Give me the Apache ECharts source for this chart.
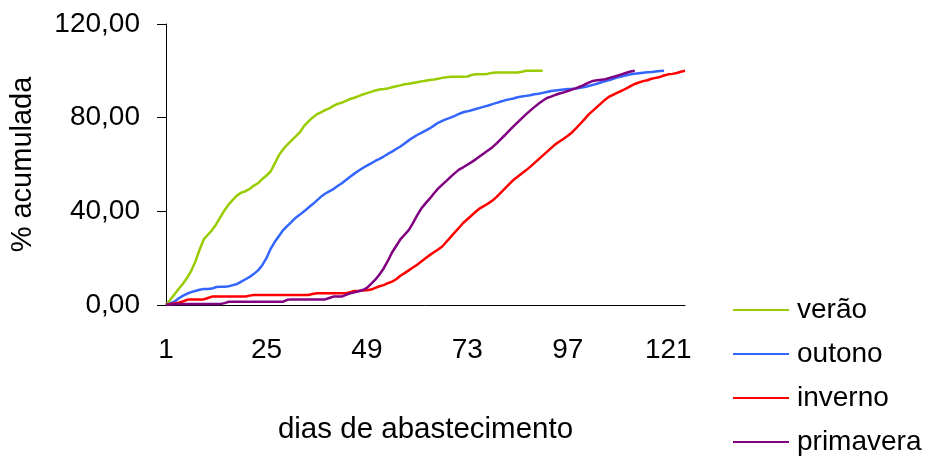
<!DOCTYPE html>
<html>
<head>
<meta charset="utf-8">
<script src="https://cdn.jsdelivr.net/npm/echarts@6/dist/echarts.min.js"></script>
<style>
  html, body { margin: 0; padding: 0; background: #fff; }
  #chart { width: 931px; height: 460px; }
</style>
</head>
<body>
<div id="chart"></div>
<script>
// Supply days (1..125)
const days = Array.from({ length: 125 }, (_, i) => String(i + 1));

// Cumulative percentage per season
const verao = [
  0, 2.2, 4.5, 6.8, 9.0, 11.5, 14.5, 18.5, 23.5, 28.0,
  30.0, 32.0, 34.5, 37.5, 40.5, 43.0, 45.0, 46.8, 48.0, 48.6,
  49.6, 51.0, 52.0, 53.8, 55.3, 57.0, 60.5, 64.0, 66.5, 68.5,
  70.3, 72.0, 73.8, 76.5, 78.3, 80.0, 81.4, 82.3, 83.2, 84.0,
  85.0, 85.9, 86.4, 87.2, 88.0, 88.5, 89.2, 89.9, 90.5, 91.0,
  91.6, 92.0, 92.2, 92.5, 93.0, 93.4, 93.8, 94.3, 94.5, 94.8,
  95.1, 95.5, 95.8, 96.1, 96.3, 96.6, 97.0, 97.3, 97.5, 97.5,
  97.5, 97.5, 97.6, 98.2, 98.5, 98.5, 98.5, 98.8, 99.2, 99.3,
  99.3, 99.3, 99.3, 99.3, 99.3, 99.6, 100, 100, 100, 100,
  100
];

const outono = [
  0, 0.7, 1.4, 2.8, 3.9, 4.8, 5.5, 6.0, 6.5, 6.8,
  6.8, 7.0, 7.7, 7.8, 7.8, 8.0, 8.5, 9.0, 10.0, 11.0,
  12.0, 13.3, 14.8, 17.0, 20.0, 24.0, 27.0, 29.5, 32.0, 33.8,
  35.5, 37.3, 38.6, 40.0, 41.5, 43.0, 44.6, 46.2, 47.5, 48.5,
  49.5, 50.8, 52.0, 53.4, 54.8, 56.1, 57.3, 58.5, 59.5, 60.5,
  61.5, 62.4, 63.4, 64.5, 65.5, 66.6, 67.7, 69.0, 70.3, 71.5,
  72.6, 73.5, 74.5, 75.4, 76.6, 77.8, 78.6, 79.4, 80.0, 80.8,
  81.6, 82.3, 82.7, 83.2, 83.7, 84.2, 84.7, 85.2, 85.8, 86.3,
  86.9, 87.4, 87.8, 88.2, 88.7, 89.0, 89.3, 89.6, 90.0, 90.2,
  90.6, 91.0, 91.4, 91.6, 91.8, 92.0, 92.2, 92.3, 92.5, 92.8,
  93.1, 93.5, 94.0, 94.5, 95.1, 95.6, 96.1, 96.7, 97.3, 97.7,
  98.1, 98.5, 98.8, 99.0, 99.2, 99.4, 99.5, 99.7, 99.9, 100
];

const inverno = [
  0, 0.4, 0.7, 1.0, 1.5, 2.2, 2.4, 2.4, 2.4, 2.4,
  3.0, 3.6, 3.6, 3.6, 3.6, 3.6, 3.6, 3.6, 3.6, 3.6,
  4.0, 4.3, 4.3, 4.3, 4.3, 4.3, 4.3, 4.3, 4.3, 4.3,
  4.3, 4.3, 4.3, 4.3, 4.3, 4.7, 5.0, 5.0, 5.0, 5.0,
  5.0, 5.0, 5.0, 5.0, 5.5, 6.0, 6.0, 6.2, 6.3, 6.6,
  7.3, 8.0, 8.5, 9.3, 10.0, 11.0, 12.5, 13.6, 14.8, 16.0,
  17.2, 18.6, 20.0, 21.3, 22.5, 23.7, 25.0, 27.0, 29.0, 31.0,
  33.0, 35.0, 36.6, 38.2, 39.8, 41.3, 42.3, 43.4, 44.6, 46.2,
  48.0, 49.8, 51.6, 53.4, 54.8, 56.2, 57.5, 59.0, 60.6, 62.2,
  63.8, 65.4, 67.0, 68.6, 69.8, 71.0, 72.3, 73.7, 75.5, 77.4,
  79.4, 81.4, 83.0, 84.6, 86.2, 87.8, 89.1, 89.9, 90.8, 91.6,
  92.5, 93.5, 94.4, 95.0, 95.6, 96.0, 96.6, 97.0, 97.4, 98.0,
  98.5, 98.7, 99.1, 99.6, 100
];

const primavera = [
  0, 0.2, 0.3, 0.4, 0.4, 0.4, 0.4, 0.4, 0.4, 0.4,
  0.4, 0.4, 0.4, 0.4, 0.8, 1.4, 1.4, 1.4, 1.4, 1.4,
  1.4, 1.4, 1.4, 1.4, 1.4, 1.4, 1.4, 1.4, 1.4, 2.2,
  2.4, 2.4, 2.4, 2.4, 2.4, 2.4, 2.4, 2.4, 2.4, 3.0,
  3.6, 3.6, 3.6, 4.3, 5.0, 5.4, 5.9, 6.4, 7.3, 9.0,
  10.8, 13.0, 15.6, 18.8, 22.4, 25.2, 28.0, 30.0, 32.0, 35.0,
  38.3, 41.2, 43.4, 45.4, 47.6, 49.7, 51.4, 53.0, 54.7, 56.3,
  57.8, 58.8, 59.9, 61.0, 62.2, 63.5, 64.8, 66.1, 67.4, 69.0,
  70.8, 72.6, 74.5, 76.3, 78.0, 79.7, 81.4, 83.0, 84.5, 85.9,
  87.2, 88.4, 89.0, 89.7, 90.3, 90.8, 91.4, 92.0, 92.6, 93.3,
  94.1, 95.0, 95.7, 96.0, 96.2, 96.4, 97.0, 97.5, 98.0, 98.6,
  99.2, 99.7, 100
];

const seasonNames = ['verão', 'outono', 'inverno', 'primavera'];
const seasonData = [verao, outono, inverno, primavera];
const seasonColors = ['#99CC00', '#3366FF', '#FF0000', '#800080'];

const FONT = '"Liberation Sans", Arial, sans-serif';

const chart = echarts.init(document.getElementById('chart'), null, { renderer: 'canvas' });

chart.setOption({
  animation: false,
  backgroundColor: '#ffffff',
  textStyle: { fontFamily: FONT, color: '#000' },
  grid: { left: 166, right: 246, top: 24, bottom: 155, containLabel: false },
  legend: {
    orient: 'vertical',
    left: 733,
    top: 296,
    height: 164,
    padding: 0,
    itemWidth: 56,
    itemHeight: 2,
    itemGap: 16,
    icon: 'rect',
    data: seasonNames,
    textStyle: { fontFamily: FONT, fontSize: 28, color: '#000', lineHeight: 28, padding: [0, 0, 0, 3] }
  },
  xAxis: {
    type: 'category',
    data: days,
    boundaryGap: false,
    name: 'dias de abastecimento',
    nameLocation: 'middle',
    nameGap: 110,
    nameTextStyle: { fontFamily: FONT, fontSize: 29.5, color: '#000' },
    axisLine: { show: true, lineStyle: { color: '#000', width: 1 } },
    axisTick: { show: false },
    axisLabel: {
      interval: 23,
      margin: 31,
      fontFamily: FONT,
      fontSize: 28,
      color: '#000'
    },
    splitLine: { show: false }
  },
  yAxis: {
    type: 'value',
    min: 0,
    max: 120,
    interval: 40,
    name: '% acumulada',
    nameLocation: 'middle',
    nameRotate: 90,
    nameGap: 129,
    nameTextStyle: { fontFamily: FONT, fontSize: 29, color: '#000' },
    axisLine: { show: true, lineStyle: { color: '#000', width: 1 } },
    axisTick: { show: true, inside: false, length: 9, lineStyle: { color: '#000' } },
    axisLabel: {
      margin: 26,
      fontFamily: FONT,
      fontSize: 28,
      color: '#000',
      formatter: v => v.toFixed(2).replace('.', ',')
    },
    splitLine: { show: false }
  },
  series: seasonNames.map((name, i) => ({
    name,
    type: 'line',
    data: seasonData[i],
    symbol: 'none',
    smooth: false,
    lineStyle: { color: seasonColors[i], width: 2.5 },
    itemStyle: { color: seasonColors[i] }
  }))
});
</script>
</body>
</html>
